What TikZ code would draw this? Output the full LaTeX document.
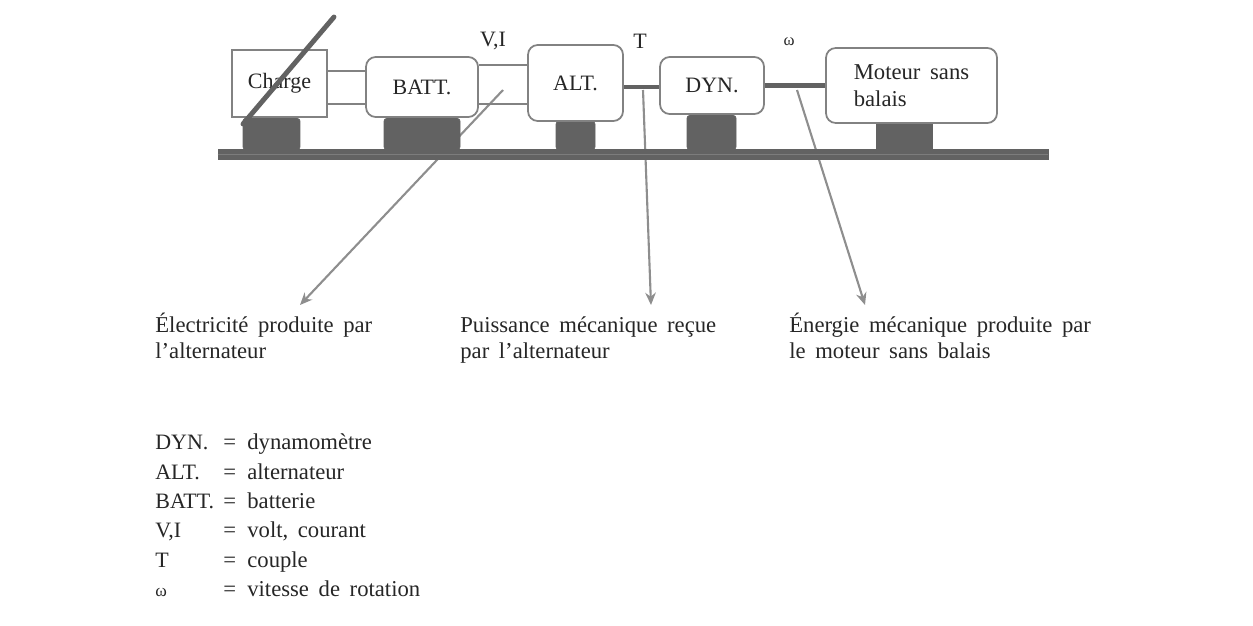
\documentclass[tikz,border=0pt]{standalone}
\usepackage{fontspec}
\usetikzlibrary{arrows.meta}
\setmainfont[WordSpace=1.7]{Liberation Serif}
\definecolor{socle}{HTML}{626262}
\definecolor{rayure}{HTML}{7C7C7C}
\definecolor{bord}{HTML}{828282}
\definecolor{fleche}{HTML}{8E8E8E}
\tikzset{
    boite/.style={draw=bord, line width=1pt, fill=white, inner sep=0pt, font=\fontsize{12.5}{14}\selectfont, text=black!85},
    machine/.style={boite, rounded corners=5.5pt},
    support/.style={fill=socle, draw=socle, inner sep=0pt, rounded corners=1.5pt},
    fil/.style={draw=bord, line width=1pt},
    arbre/.style={draw=socle, line width=2.8pt},
    renvoi/.style={draw=fleche, line width=1.2pt, -{Stealth[length=7pt, width=6pt]}},
    cle/.style={anchor=base west, inner sep=0pt, font=\fontsize{12.5}{14}\selectfont, text=black!85},
    texte/.style={cle, font=\fontsize{12.9}{14}\selectfont},
    grandeur/.style={inner sep=0pt, font=\fontsize{12.5}{14}\selectfont, text=black!85}
}
\begin{document}
\begin{tikzpicture}[>=stealth, x=0.02cm, y=-0.02cm]
            \useasboundingbox (0,0) rectangle (1253,625);

            % Points where the gray arrows start and stop
            \coordinate (elecdep) at (503,90);
            \coordinate (elecfin) at (300,305);
            \coordinate (mecadep) at (643,90);
            \coordinate (mecafin) at (651,305);
            \coordinate (motdep) at (797,90);
            \coordinate (motfin) at (865,305);
            \draw[renvoi] (elecdep) -- (elecfin);
            \draw[renvoi] (mecadep) -- (mecafin);
            \draw[renvoi] (motdep) -- (motfin);

            % Bench and feet
            \node[fill=socle, draw=socle, inner sep=0pt, minimum width=16.6cm, minimum height=0.2cm] (banc) at (633,154) {};
            \draw[rayure, line width=0.5pt] (banc.west) -- (banc.east);
            \node[support, minimum width=1.14cm, minimum height=0.62cm] (piedcharge) at (271.5,134) {};
            \node[support, minimum width=1.52cm, minimum height=0.62cm] (piedbatt) at (422,134) {};
            \node[support, minimum width=0.78cm, minimum height=0.56cm] (piedalt) at (575.5,135.5) {};
            \node[support, minimum width=0.98cm, minimum height=0.68cm] (pieddyn) at (711.5,132.5) {};
            \node[support, minimum width=1.12cm, minimum height=0.6cm, rounded corners=0pt] (piedmot) at (904,134.5) {};

            % Boxes
            \node[boite, minimum width=1.9cm, minimum height=1.34cm] (charge) at (279.5,83.5) {Charge};
            \node[machine, minimum width=2.24cm, minimum height=1.2cm] (batt) at (422,87) {BATT.};
            \node[machine, minimum width=1.9cm, minimum height=1.52cm] (alt) at (575.5,83) {ALT.};
            \node[machine, minimum width=2.08cm, minimum height=1.14cm] (dyn) at (712,85.5) {DYN.};
            \node[machine, minimum width=3.42cm, minimum height=1.5cm, align=left, font=\fontsize{12.9}{14}\selectfont] (moteur) at (911.5,85.5) {Moteur sans\\[1.5pt]balais};

            % Wires and shafts
            \draw[fil] ([yshift=0.25cm]charge.east) -- ([yshift=0.25cm]charge.east -| batt.west);
            \draw[fil] ([yshift=-0.41cm]charge.east) -- ([yshift=-0.41cm]charge.east -| batt.west);
            \draw[fil] ([yshift=0.44cm]batt.east) -- ([yshift=0.44cm]batt.east -| alt.west);
            \draw[fil] ([yshift=-0.34cm]batt.east) -- ([yshift=-0.34cm]batt.east -| alt.west);
            \draw[arbre] ([yshift=-0.08cm]alt.east) -- ([yshift=-0.08cm]alt.east -| dyn.west);
            \draw[arbre] (dyn.east) -- (dyn.east -| moteur.west);

            % Variable load stroke
            \coordinate (chargebas) at (243,124);
            \coordinate (chargehaut) at (334,17);
            \draw[socle, line width=2.8pt, line cap=round] (chargebas) -- (chargehaut);

            % Quantities above the shafts
            \node[grandeur] (vi) at (493,41) {V,I};
            \node[grandeur] (couple) at (640,41) {T};
            \node[grandeur, font=\fontsize{9.5}{11}\selectfont] (omega) at (789,42) {ω};

            % What each arrow points at
            \node[texte] (elec) at (155,332) {Électricité produite par};
            \node[texte] (elecb) at (155,358) {l'alternateur};
            \node[texte] (meca) at (460,332) {Puissance mécanique reçue};
            \node[texte] (mecab) at (460,358) {par l'alternateur};
            \node[texte] (mot) at (789,332) {Énergie mécanique produite par};
            \node[texte] (motb) at (789,358) {le moteur sans balais};

            % Legend
            \node[cle] (cledyn) at (155,449) {DYN.};
            \node[texte] (egdyn) at (223,449) {=};
            \node[texte] (defdyn) at (247,449) {dynamomètre};
            \node[cle] (clealt) at (155,479) {ALT.};
            \node[texte] (egalt) at (223,479) {=};
            \node[texte] (defalt) at (247,479) {alternateur};
            \node[cle] (clebatt) at (155,508) {BATT.};
            \node[texte] (egbatt) at (223,508) {=};
            \node[texte] (defbatt) at (247,508) {batterie};
            \node[cle] (clevi) at (155,537) {V,I};
            \node[texte] (egvi) at (223,537) {=};
            \node[texte] (defvi) at (247,537) {volt, courant};
            \node[cle] (clet) at (155,567) {T};
            \node[texte] (egt) at (223,567) {=};
            \node[texte] (deft) at (247,567) {couple};
            \node[cle, font=\fontsize{10}{12}\selectfont] (cleom) at (155,596) {ω};
            \node[texte] (egom) at (223,596) {=};
            \node[texte] (defom) at (247,596) {vitesse de rotation};
        \end{tikzpicture}
\end{document}
